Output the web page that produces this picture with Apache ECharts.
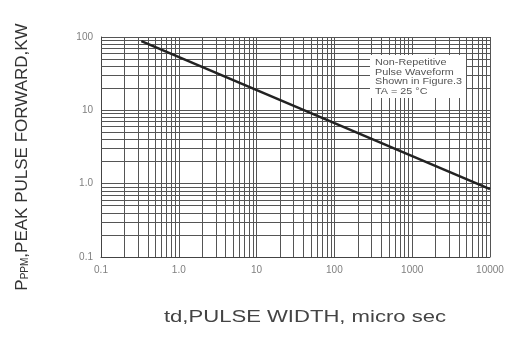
<!DOCTYPE html>
<html>
<head>
<meta charset="utf-8">
<script src="https://cdn.jsdelivr.net/npm/echarts@6/dist/echarts.min.js"></script>
<style>html,body{margin:0;padding:0;background:#fff;}#c{width:509px;height:342px;}</style>
</head>
<body>
<div id="c"></div>
<script>
// ---- data ----
var xTickValues = [0.1, 1, 10, 100, 1000, 10000];
var xTickLabels = ['0.1', '1.0', '10', '100', '1000', '10000'];
var yTickValues = [0.1, 1, 10, 100];
var yTickLabels = ['0.1', '1.0', '10', '100'];
var pulseWidth = [0.33, 10000];      // td, micro sec
var peakPower = [88, 0.84];          // PPPM, kW
var noteLines = ['Non-Repetitive', 'Pulse Waveform', 'Shown in Figure.3', 'TA = 25 \u00B0C'];

function labelFor(values, labels) {
  return function (v) {
    for (var i = 0; i < values.length; i++) {
      if (Math.abs(Math.log10(v) - Math.log10(values[i])) < 1e-6) return labels[i];
    }
    return '';
  };
}
function minorValues(values) {
  var out = [];
  for (var i = 0; i < values.length - 1; i++) {
    for (var k = 2; k <= 9; k++) out.push(values[i] * k);
  }
  return out;
}
var gridColor = '#555';
var mlData = [];
minorValues(xTickValues).forEach(function (v) { mlData.push({ xAxis: v }); });
minorValues(yTickValues).forEach(function (v) { mlData.push({ yAxis: v }); });

var chart = echarts.init(document.getElementById('c'), null, { renderer: 'canvas' });
chart.setOption({
  animation: false,
  backgroundColor: '#fff',
  textStyle: { fontFamily: 'Liberation Sans' },
  grid: { left: 101, right: 19, top: 37, bottom: 85 },
  xAxis: {
    type: 'log', logBase: 10, min: 0.1, max: 10000,
    axisLine: { show: true, lineStyle: { color: '#444', width: 1 } },
    axisTick: { show: false },
    axisLabel: { formatter: labelFor(xTickValues, xTickLabels), color: '#808080', fontSize: 10, margin: 8, fontFamily: 'Liberation Sans' },
    splitLine: { show: true, lineStyle: { color: gridColor, width: 1 } },
    minorTick: { show: false }, minorSplitLine: { show: false }
  },
  yAxis: {
    type: 'log', logBase: 10, min: 0.1, max: 100,
    axisLine: { show: true, lineStyle: { color: '#444', width: 1 } },
    axisTick: { show: false },
    axisLabel: { formatter: labelFor(yTickValues, yTickLabels), color: '#808080', fontSize: 10, margin: 8, fontFamily: 'Liberation Sans' },
    splitLine: { show: true, lineStyle: { color: gridColor, width: 1 } },
    minorTick: { show: false }, minorSplitLine: { show: false }
  },
  series: [{
    type: 'line',
    data: pulseWidth.map(function (x, i) { return [x, peakPower[i]]; }),
    symbol: 'none',
    lineStyle: { color: '#222', width: 2.5 },
    z: 5,
    markLine: {
      silent: true, symbol: 'none', animation: false,
      label: { show: false },
      lineStyle: { color: gridColor, width: 1, type: 'solid' },
      data: mlData
    }
  }],
  graphic: [
    { type: 'rect', z: 100, shape: { x: 370, y: 55, width: 96, height: 43 }, style: { fill: '#fff' } },
    { type: 'text', z: 101, x: 375, y: 58, scaleX: 1.2,
      style: { text: noteLines.join('\n'), font: '9px "Liberation Sans"', fill: '#555', lineHeight: 9.5 } },
    { type: 'text', z: 101, x: 22, y: 157, rotation: Math.PI / 2,
      style: {
        text: '{a|P}{b|PPM}{a|,PEAK PULSE FORWARD,KW}',
        align: 'center', verticalAlign: 'middle',
        rich: {
          a: { fontSize: 17, fontFamily: 'Liberation Sans', fill: '#333', color: '#333', verticalAlign: 'bottom' },
          b: { fontSize: 10, fontFamily: 'Liberation Sans', fill: '#333', color: '#333', verticalAlign: 'bottom' }
        }
      } },
    { type: 'text', z: 101, x: 305, y: 318, scaleX: 1.38,
      style: { text: 'td,PULSE WIDTH, micro sec', font: '16px "Liberation Sans"', fill: '#444', align: 'center', verticalAlign: 'middle' } }
  ]
});
</script>
</body>
</html>
